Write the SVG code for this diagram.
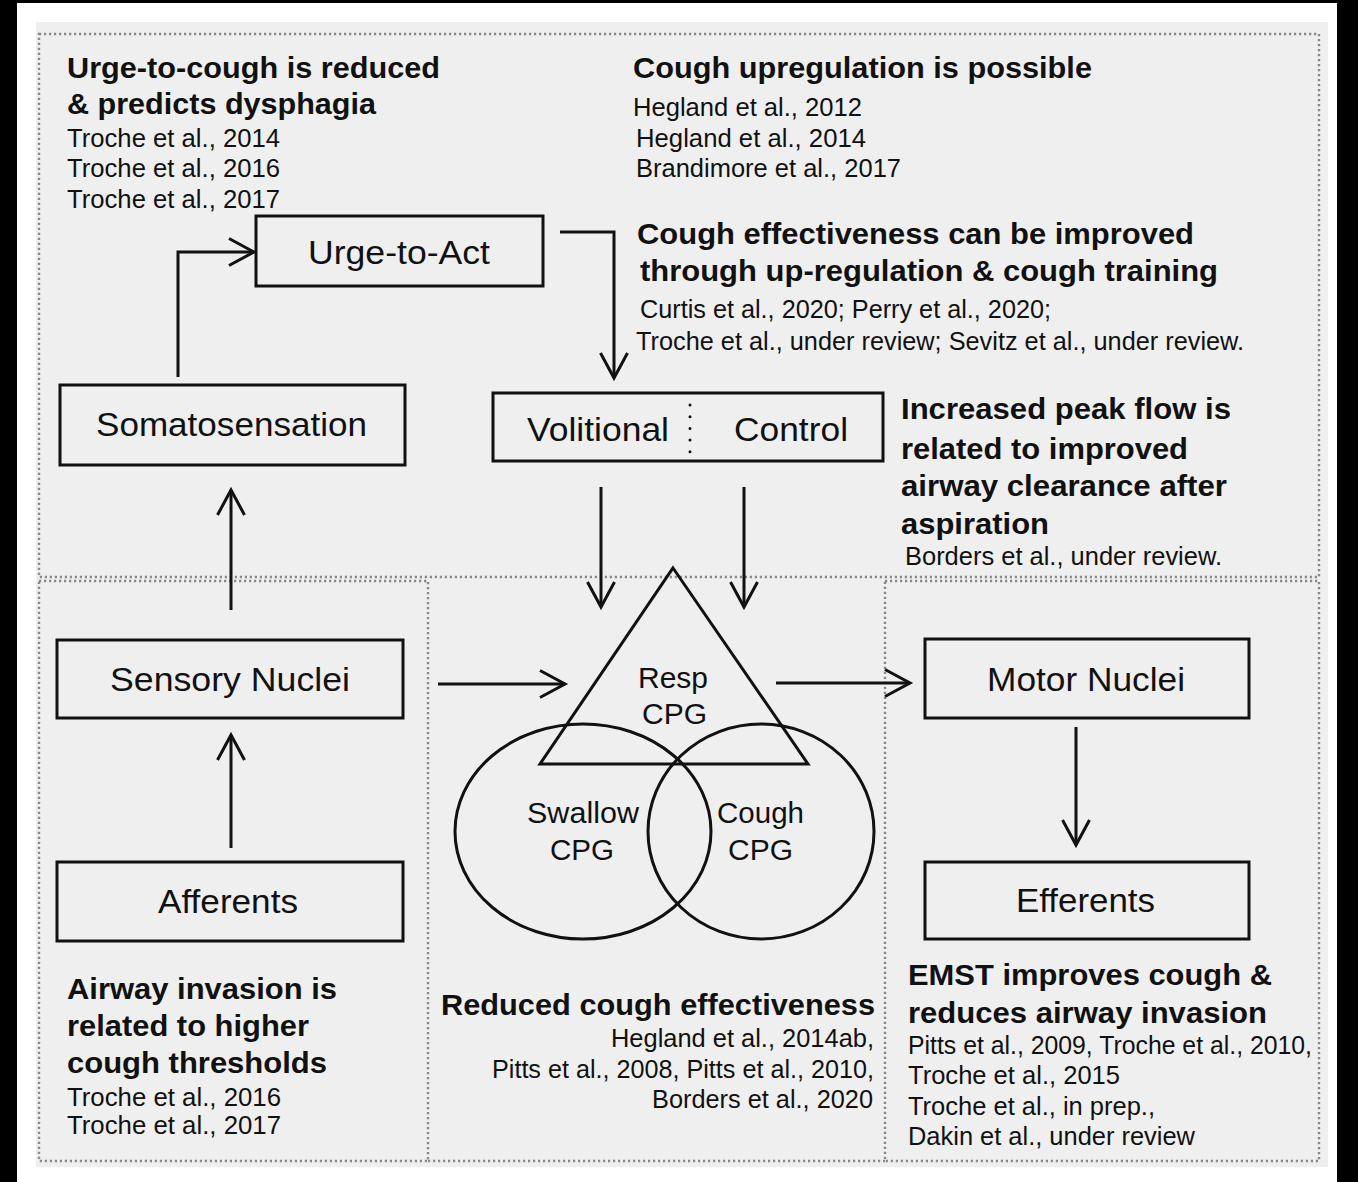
<svg xmlns="http://www.w3.org/2000/svg" width="1358" height="1182" viewBox="0 0 1358 1182">
  <defs>
    <style>
      text { font-family: "Liberation Sans", Arial, sans-serif; fill: #111; }
      .hd { font-size: 30px; font-weight: bold; }
      .ref { font-size: 25px; }
      .lbl { font-size: 33px; }
      .cpg { font-size: 29px; }
      .box { fill: none; stroke: #111; stroke-width: 3; }
      .zone { fill: none; stroke: #888; stroke-width: 2.4; stroke-dasharray: 2.2 2.8; }
      .edge { fill: none; stroke: #111; stroke-width: 3; marker-end: url(#arr); }
      .shape { fill: none; stroke: #111; stroke-width: 3; }
    </style>
    <marker id="arr" markerUnits="userSpaceOnUse" orient="auto" markerWidth="40" markerHeight="40" viewBox="-30 -20 40 40" refX="0" refY="0" overflow="visible">
      <path d="M-25,-13.5 L0,0 L-25,13.5" fill="none" stroke="#111" stroke-width="3"/>
    </marker>
  </defs>

  <!-- frame and panel -->
  <rect x="0" y="0" width="1358" height="1182" fill="#000"/>
  <rect x="17" y="3" width="1320" height="1179" fill="#fff"/>
  <rect x="36" y="22" width="1292" height="1145" fill="#efefef"/>

  <!-- dotted zones -->
  <g id="zones">
    <rect class="zone" x="39" y="34" width="1280" height="543"/>
    <rect class="zone" x="39" y="581" width="389" height="580"/>
    <rect class="zone" x="885" y="581" width="434" height="580"/>
    <line class="zone" x1="428" y1="1161" x2="885" y2="1161"/>
  </g>

  <!-- connectors -->
  <g id="connectors">
    <path class="edge" d="M178,377 V252 H254"/>
    <path class="edge" d="M560,232 H614 V378"/>
    <line class="edge" x1="601" y1="487" x2="601" y2="607"/>
    <line class="edge" x1="744" y1="487" x2="744" y2="607"/>
    <line class="edge" x1="231" y1="610" x2="231" y2="490"/>
    <line class="edge" x1="231" y1="848" x2="231" y2="735"/>
    <line class="edge" x1="438" y1="684" x2="565" y2="684"/>
    <line class="edge" x1="776" y1="683" x2="910" y2="683"/>
    <line class="edge" x1="1076" y1="727" x2="1076" y2="845"/>
  </g>

  <!-- nodes -->
  <g id="urge-to-act">
    <rect class="box" x="256" y="216" width="287" height="70"/>
    <text class="lbl" x="308" y="264" textLength="182" lengthAdjust="spacingAndGlyphs">Urge-to-Act</text>
  </g>
  <g id="somatosensation">
    <rect class="box" x="60" y="385" width="345" height="80"/>
    <text class="lbl" x="96" y="436" textLength="271" lengthAdjust="spacingAndGlyphs">Somatosensation</text>
  </g>
  <g id="volitional-control">
    <rect class="box" x="493" y="393" width="390" height="68"/>
    <line x1="690" y1="405" x2="690" y2="455" stroke="#111" stroke-width="3" stroke-linecap="round" stroke-dasharray="0 11.7"/>
    <text class="lbl" x="527" y="441" textLength="142" lengthAdjust="spacingAndGlyphs">Volitional</text>
    <text class="lbl" x="734" y="441" textLength="114" lengthAdjust="spacingAndGlyphs">Control</text>
  </g>
  <g id="sensory-nuclei">
    <rect class="box" x="57" y="640" width="346" height="78"/>
    <text class="lbl" x="110" y="691" textLength="240" lengthAdjust="spacingAndGlyphs">Sensory Nuclei</text>
  </g>
  <g id="afferents">
    <rect class="box" x="57" y="862" width="346" height="79"/>
    <text class="lbl" x="158" y="913" textLength="140" lengthAdjust="spacingAndGlyphs">Afferents</text>
  </g>
  <g id="motor-nuclei">
    <rect class="box" x="925" y="639" width="324" height="79"/>
    <text class="lbl" x="987" y="691" textLength="198" lengthAdjust="spacingAndGlyphs">Motor Nuclei</text>
  </g>
  <g id="efferents">
    <rect class="box" x="925" y="862" width="324" height="77"/>
    <text class="lbl" x="1016" y="912" textLength="139" lengthAdjust="spacingAndGlyphs">Efferents</text>
  </g>
  <g id="resp-cpg">
    <polygon class="shape" points="673,568 808,764 540,764"/>
    <text class="cpg" x="638" y="688" textLength="70" lengthAdjust="spacingAndGlyphs">Resp</text>
    <text class="cpg" x="642" y="724" textLength="65" lengthAdjust="spacingAndGlyphs">CPG</text>
  </g>
  <g id="swallow-cpg">
    <ellipse class="shape" cx="583" cy="831.5" rx="128" ry="107.5"/>
    <text class="cpg" x="527" y="823" textLength="112" lengthAdjust="spacingAndGlyphs">Swallow</text>
    <text class="cpg" x="550" y="860" textLength="64" lengthAdjust="spacingAndGlyphs">CPG</text>
  </g>
  <g id="cough-cpg">
    <ellipse class="shape" cx="761" cy="831.5" rx="113" ry="107.5"/>
    <text class="cpg" x="717" y="823" textLength="87" lengthAdjust="spacingAndGlyphs">Cough</text>
    <text class="cpg" x="728" y="860" textLength="65" lengthAdjust="spacingAndGlyphs">CPG</text>
  </g>

  <!-- findings and references -->
  <g id="notes-urge">
    <text class="hd" x="67" y="78" textLength="373" lengthAdjust="spacingAndGlyphs">Urge-to-cough is reduced</text>
    <text class="hd" x="67" y="114" textLength="309" lengthAdjust="spacingAndGlyphs">&amp; predicts dysphagia</text>
    <text class="ref" x="67" y="147" textLength="213" lengthAdjust="spacingAndGlyphs">Troche et al., 2014</text>
    <text class="ref" x="67" y="177" textLength="213" lengthAdjust="spacingAndGlyphs">Troche et al., 2016</text>
    <text class="ref" x="67" y="208" textLength="213" lengthAdjust="spacingAndGlyphs">Troche et al., 2017</text>
  </g>
  <g id="notes-upregulation">
    <text class="hd" x="633" y="78" textLength="459" lengthAdjust="spacingAndGlyphs">Cough upregulation is possible</text>
    <text class="ref" x="633" y="116" textLength="229" lengthAdjust="spacingAndGlyphs">Hegland et al., 2012</text>
    <text class="ref" x="636" y="147" textLength="230" lengthAdjust="spacingAndGlyphs">Hegland et al., 2014</text>
    <text class="ref" x="636" y="177" textLength="265" lengthAdjust="spacingAndGlyphs">Brandimore et al., 2017</text>
  </g>
  <g id="notes-training">
    <text class="hd" x="637" y="244" textLength="557" lengthAdjust="spacingAndGlyphs">Cough effectiveness can be improved</text>
    <text class="hd" x="640" y="281" textLength="578" lengthAdjust="spacingAndGlyphs">through up-regulation &amp; cough training</text>
    <text class="ref" x="640" y="318" textLength="411" lengthAdjust="spacingAndGlyphs">Curtis et al., 2020; Perry et al., 2020;</text>
    <text class="ref" x="636" y="350" textLength="608" lengthAdjust="spacingAndGlyphs">Troche et al., under review; Sevitz et al., under review.</text>
  </g>
  <g id="notes-peak-flow">
    <text class="hd" x="901" y="419" textLength="330" lengthAdjust="spacingAndGlyphs">Increased peak flow is</text>
    <text class="hd" x="901" y="459" textLength="287" lengthAdjust="spacingAndGlyphs">related to improved</text>
    <text class="hd" x="901" y="496" textLength="326" lengthAdjust="spacingAndGlyphs">airway clearance after</text>
    <text class="hd" x="901" y="534" textLength="148" lengthAdjust="spacingAndGlyphs">aspiration</text>
    <text class="ref" x="905" y="565" textLength="317" lengthAdjust="spacingAndGlyphs">Borders et al., under review.</text>
  </g>
  <g id="notes-thresholds">
    <text class="hd" x="67" y="999" textLength="270" lengthAdjust="spacingAndGlyphs">Airway invasion is</text>
    <text class="hd" x="67" y="1036" textLength="242" lengthAdjust="spacingAndGlyphs">related to higher</text>
    <text class="hd" x="67" y="1073" textLength="260" lengthAdjust="spacingAndGlyphs">cough thresholds</text>
    <text class="ref" x="67" y="1106" textLength="214" lengthAdjust="spacingAndGlyphs">Troche et al., 2016</text>
    <text class="ref" x="67" y="1134" textLength="214" lengthAdjust="spacingAndGlyphs">Troche et al., 2017</text>
  </g>
  <g id="notes-effectiveness">
    <text class="hd" x="441" y="1015" textLength="434" lengthAdjust="spacingAndGlyphs">Reduced cough effectiveness</text>
    <text class="ref" x="611" y="1047" textLength="263" lengthAdjust="spacingAndGlyphs">Hegland et al., 2014ab,</text>
    <text class="ref" x="492" y="1078" textLength="382" lengthAdjust="spacingAndGlyphs">Pitts et al., 2008, Pitts et al., 2010,</text>
    <text class="ref" x="652" y="1108" textLength="221" lengthAdjust="spacingAndGlyphs">Borders et al., 2020</text>
  </g>
  <g id="notes-emst">
    <text class="hd" x="908" y="985" textLength="364" lengthAdjust="spacingAndGlyphs">EMST improves cough &amp;</text>
    <text class="hd" x="908" y="1023" textLength="359" lengthAdjust="spacingAndGlyphs">reduces airway invasion</text>
    <text class="ref" x="908" y="1054" textLength="404" lengthAdjust="spacingAndGlyphs">Pitts et al., 2009, Troche et al., 2010,</text>
    <text class="ref" x="908" y="1084" textLength="212" lengthAdjust="spacingAndGlyphs">Troche et al., 2015</text>
    <text class="ref" x="908" y="1115" textLength="247" lengthAdjust="spacingAndGlyphs">Troche et al., in prep.,</text>
    <text class="ref" x="908" y="1145" textLength="287" lengthAdjust="spacingAndGlyphs">Dakin et al., under review</text>
  </g>
</svg>
